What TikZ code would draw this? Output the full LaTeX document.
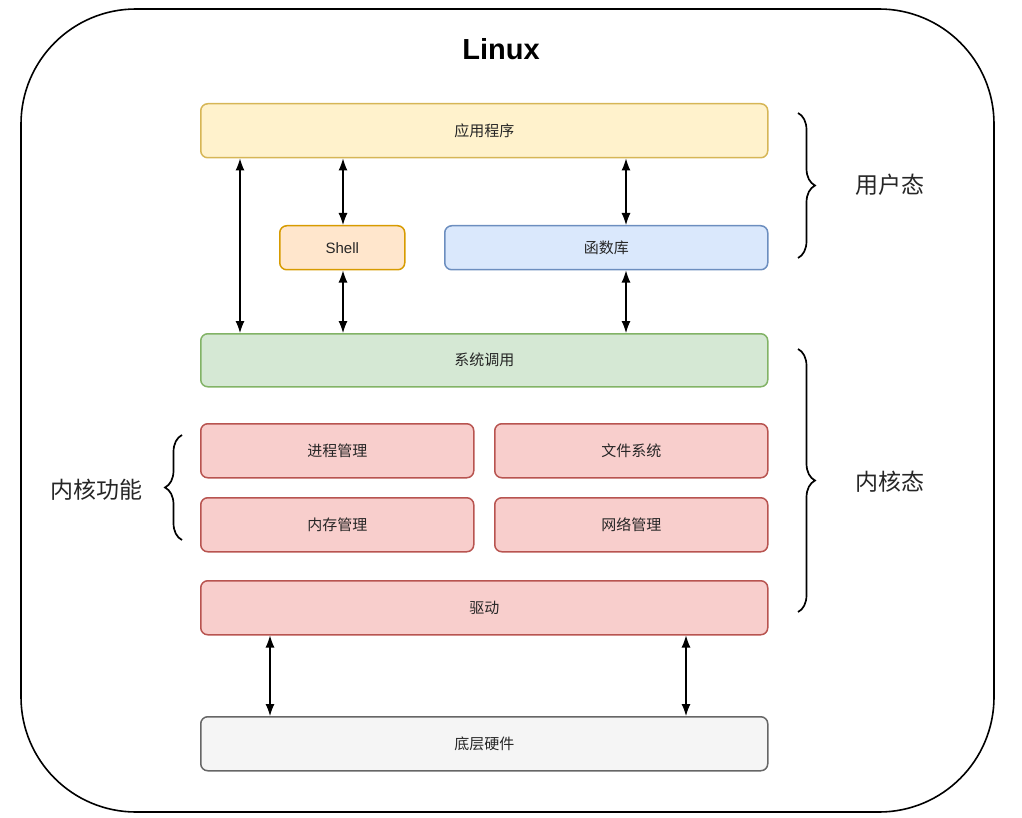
\documentclass[tikz,border=0pt]{standalone}
\usepackage{fontspec}
\setmainfont{Liberation Sans}
\newfontfamily\cjk{Noto Sans CJK SC}
\usetikzlibrary{decorations.pathreplacing,arrows.meta}
\definecolor{yfill}{HTML}{FFF2CC}\definecolor{ydraw}{HTML}{D6B656}
\definecolor{ofill}{HTML}{FFE6CC}\definecolor{odraw}{HTML}{D79B00}
\definecolor{bfill}{HTML}{DAE8FC}\definecolor{bdraw}{HTML}{6C8EBF}
\definecolor{gfill}{HTML}{D5E8D4}\definecolor{gdraw}{HTML}{82B366}
\definecolor{rfill}{HTML}{F8CECC}\definecolor{rdraw}{HTML}{B85450}
\definecolor{hfill}{HTML}{F5F5F5}\definecolor{hdraw}{HTML}{666666}
\tikzset{
  layer/.style={draw, line width=1.5pt, rounded corners=7pt, inner sep=0pt, font=\fontsize{15}{17}\selectfont\cjk, text=black!85},
  conn/.style={line width=1.1pt, {Latex[length=12pt,width=9pt]}-{Latex[length=12pt,width=9pt]}},
  brc/.style={decorate, decoration={brace, amplitude=17pt}, line width=1.7pt},
  lbl/.style={font=\fontsize{23}{27}\selectfont\cjk, text=black!85}
}
\newcommand{\layerbox}[7]{% name, x1,y1,x2,y2, style, text
  \node[layer,#6, minimum width=#4pt-#2pt, minimum height=#5pt-#3pt, anchor=north west] (#1) at (#2,#3) {#7};}
\begin{document}
\begin{tikzpicture}[x=1pt,y=-1pt]
\useasboundingbox (0,0) rectangle (1022,818);
\draw[line width=1.6pt, rounded corners=115pt] (21,9) rectangle (994,812);
\node[font=\fontsize{29}{33}\selectfont\bfseries] (title) at (501,49) {Linux};
\layerbox{app}{200}{103}{767}{157}{fill=yfill,draw=ydraw}{应用程序}
\layerbox{shell}{279}{225}{404}{269}{fill=ofill,draw=odraw}{\rmfamily Shell}
\layerbox{lib}{444}{225}{767}{269}{fill=bfill,draw=bdraw}{函数库}
\layerbox{sys}{200}{333}{767}{386}{fill=gfill,draw=gdraw}{系统调用}
\layerbox{proc}{200}{423}{473}{477}{fill=rfill,draw=rdraw}{进程管理}
\layerbox{fs}{494}{423}{767}{477}{fill=rfill,draw=rdraw}{文件系统}
\layerbox{mem}{200}{497}{473}{551}{fill=rfill,draw=rdraw}{内存管理}
\layerbox{net}{494}{497}{767}{551}{fill=rfill,draw=rdraw}{网络管理}
\layerbox{drv}{200}{580}{767}{634}{fill=rfill,draw=rdraw}{驱动}
\layerbox{hw}{200}{716}{767}{770}{fill=hfill,draw=hdraw}{底层硬件}
% connectors
\draw[conn] (app.south west -| 240,0) -- (sys.north west -| 240,0);
\draw[conn] (app.south west -| 343,0) -- (shell.north west -| 343,0);
\draw[conn] (shell.south west -| 343,0) -- (sys.north west -| 343,0);
\draw[conn] (app.south west -| 626,0) -- (lib.north west -| 626,0);
\draw[conn] (lib.south west -| 626,0) -- (sys.north west -| 626,0);
\draw[conn] (drv.south west -| 270,0) -- (hw.north west -| 270,0);
\draw[conn] (drv.south west -| 686,0) -- (hw.north west -| 686,0);
% braces
\coordinate (b1a) at (798,113); \coordinate (b1b) at (798,258);
\coordinate (b2a) at (798,349); \coordinate (b2b) at (798,612);
\coordinate (b3a) at (182,435); \coordinate (b3b) at (182,540);
\draw[brc] (b1a) -- (b1b);
\draw[brc] (b2a) -- (b2b);
\draw[brc] (b3b) -- (b3a);
\node[lbl] (user) at (890,185) {用户态};
\node[lbl] (kern) at (890,482) {内核态};
\node[lbl] (kfun) at (96,490) {内核功能};
\end{tikzpicture}
\end{document}
